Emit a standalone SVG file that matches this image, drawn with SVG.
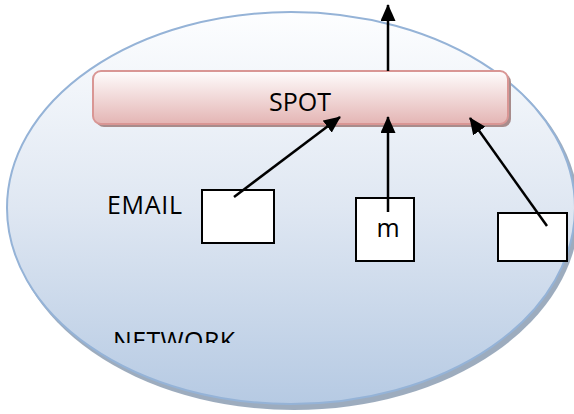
<svg xmlns="http://www.w3.org/2000/svg" width="574" height="414" viewBox="0 0 574 414">
<defs>
<linearGradient id="gNet" x1="0" y1="0" x2="0" y2="1">
<stop offset="0" stop-color="#fdfeff"/>
<stop offset="0.5" stop-color="#dfe7f2"/>
<stop offset="1" stop-color="#b6cae3"/>
</linearGradient>
<linearGradient id="gSpot" x1="0" y1="0" x2="0" y2="1">
<stop offset="0" stop-color="#fefcfc"/>
<stop offset="1" stop-color="#e4b5b4"/>
</linearGradient>
<marker id="ah" viewBox="0 0 17 15" refX="16" refY="7.5" markerWidth="17" markerHeight="15" markerUnits="userSpaceOnUse" orient="auto">
<path d="M0,0 L17,7.5 L0,15 Z" fill="#000"/>
</marker>
<clipPath id="netClip"><rect x="0" y="0" width="574" height="343"/></clipPath>
</defs>
<style>
.txt{font-family:"Open Sans","Liberation Sans",sans-serif;font-size:25px;fill:#000}
.box{fill:#fff;stroke:#000;stroke-width:2}
.conn{stroke:#000;stroke-width:2.5;fill:none;marker-end:url(#ah)}
</style>
<g id="network">
<ellipse cx="294" cy="212" rx="285" ry="198" fill="#8c9db3" opacity="0.85"/>
<ellipse cx="291" cy="208" rx="284" ry="196" fill="url(#gNet)" stroke="#95b3d7" stroke-width="2"/>
<text class="txt" x="113" y="350" clip-path="url(#netClip)" textLength="122">NETWORK</text>
</g>
<g id="spot">
<rect x="96" y="74" width="415" height="53" rx="8" fill="#a88c8c"/>
<rect x="93" y="71" width="415" height="53" rx="8" fill="url(#gSpot)" stroke="#d99694" stroke-width="2"/>
<text class="txt" x="300" y="111" text-anchor="middle">SPOT</text>
</g>
<g id="email">
<text class="txt" x="107" y="214" textLength="75">EMAIL</text>
<rect class="box" x="202" y="190" width="72" height="53"/>
</g>
<g id="m">
<rect class="box" x="356" y="198" width="58" height="63"/>
<text class="txt" x="388" y="237" text-anchor="middle">m</text>
</g>
<g id="node3">
<rect class="box" x="498" y="213" width="69" height="48"/>
</g>
<g id="connectors">
<line class="conn" x1="234" y1="197" x2="340" y2="117"/>
<line class="conn" x1="388" y1="212" x2="388" y2="117"/>
<line class="conn" x1="547" y1="226" x2="470" y2="118"/>
<line class="conn" x1="388" y1="71" x2="388" y2="5"/>
</g>
</svg>
